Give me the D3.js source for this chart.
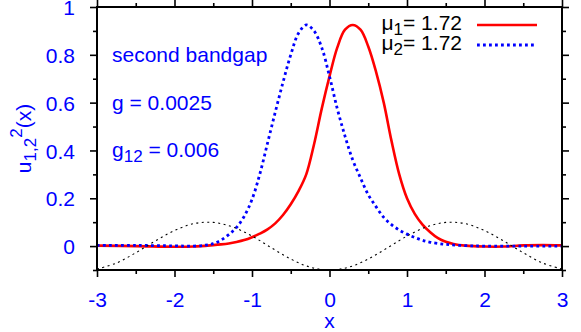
<!DOCTYPE html>
<html>
<head>
<meta charset="utf-8">
<script src="https://cdn.jsdelivr.net/npm/d3@7"></script>
<style>
    body { margin: 0; background: #fff; }
    svg { display: block; font-family: "Liberation Sans", Arial, Helvetica, sans-serif; }
</style>
</head>
<body>
<div id="chart"></div>
<script>
// values
const redX = [-3, -2.5, -2, -1.75, -1.5, -1.4, -1.3, -1.2, -1.1, -1, -0.9, -0.8, -0.7, -0.6, -0.5, -0.4, -0.3, -0.2, -0.1, 0,
    0.1, 0.2, 0.3, 0.4, 0.5, 0.6, 0.7, 0.8, 0.9, 1, 1.1, 1.2, 1.3, 1.4, 1.5, 1.6, 1.75, 2, 2.25, 2.5, 2.75, 3];
const redY = [0.002, 0, -0.003, -0.002, 0.004, 0.007, 0.011, 0.017, 0.025, 0.037, 0.052, 0.07, 0.095, 0.13, 0.175, 0.23, 0.3, 0.425, 0.575, 0.71,
    0.83, 0.905, 0.925, 0.905, 0.835, 0.73, 0.6, 0.44, 0.3, 0.2, 0.135, 0.09, 0.058, 0.033, 0.018, 0.009, 0.002, -0.002, -0.002, 0.003, 0.004, 0.003];

const blueX = [-3, -2.5, -2, -1.75, -1.6, -1.5, -1.4, -1.3, -1.2, -1.1, -1, -0.9, -0.8, -0.7, -0.6, -0.5, -0.4, -0.3, -0.2, -0.1, 0,
    0.1, 0.2, 0.3, 0.4, 0.5, 0.6, 0.7, 0.8, 0.9, 1, 1.1, 1.2, 1.3, 1.5, 1.75, 2, 2.5, 3];
const blueY = [0.003, 0.003, 0.001, 0, 0.004, 0.01, 0.025, 0.048, 0.078, 0.125, 0.195, 0.3, 0.43, 0.56, 0.685, 0.8, 0.89, 0.925, 0.9, 0.83, 0.71,
    0.575, 0.46, 0.36, 0.285, 0.215, 0.165, 0.12, 0.09, 0.067, 0.05, 0.036, 0.024, 0.016, 0.007, 0.002, 0, 0, 0];

const potX = [-3, -2.75, -2.5, -2.25, -2, -1.75, -1.5, -1.25, -1, -0.75, -0.5, -0.25, 0,
    0.25, 0.5, 0.75, 1, 1.25, 1.5, 1.75, 2, 2.25, 2.5, 2.75, 3];
const potY = [-0.096, -0.071, -0.028, 0.021, 0.065, 0.094, 0.099, 0.08, 0.042, -0.007, -0.054, -0.088, -0.1,
    -0.088, -0.054, -0.007, 0.042, 0.08, 0.099, 0.094, 0.065, 0.021, -0.028, -0.071, -0.096];

const xTicks = [-3, -2, -1, 0, 1, 2, 3];
const xMinor = [-2.5, -1.5, -0.5, 0.5, 1.5, 2.5];
const yTicks = [0, 0.2, 0.4, 0.6, 0.8, 1];
const yMinor = [-0.1, 0.1, 0.3, 0.5, 0.7, 0.9];
const legendLabels = ["1.72", "1.72"];

const width = 581, height = 332;
const mLeft = 97, mRight = 562, mTop = 7, mBottom = 270;
const fs = 21;

const x = d3.scaleLinear().domain([-3, 3]).range([mLeft, mRight]);
const y = d3.scaleLinear().domain([-0.1, 1]).range([mBottom, mTop]);

const svg = d3.select("#chart").append("svg")
    .attr("width", width).attr("height", height);

const line = (xs, ys) => d3.line()
    .x((d, i) => x(xs[i]))
    .y((d) => y(d))
    .curve(d3.curveCatmullRom)(ys);

// curves
svg.append("path").attr("d", line(redX, redY))
    .attr("fill", "none").attr("stroke", "#ff0000").attr("stroke-width", 2.6);
svg.append("path").attr("d", line(blueX, blueY))
    .attr("fill", "none").attr("stroke", "#0000ff").attr("stroke-width", 2.8)
    .attr("stroke-dasharray", "2.8,3.2");
svg.append("path").attr("d", line(potX, potY))
    .attr("fill", "none").attr("stroke", "#000").attr("stroke-width", 1.1)
    .attr("stroke-dasharray", "2,3.5");

// axes, ticks pointing outward on every side
const styleAxis = (g) => {
    g.select(".domain").remove();
    g.selectAll(".tick line").attr("stroke", "#000").attr("stroke-width", 1.6);
};
svg.append("g").attr("transform", `translate(0,${mBottom})`)
    .call(d3.axisBottom(x).tickValues(xTicks).tickSize(7).tickFormat((d) => String(d)))
    .call(styleAxis)
    .call((g) => g.selectAll("text").attr("y", 37).attr("dy", null)
        .attr("fill", "#0000ff").attr("font-size", fs));
svg.append("g").attr("transform", `translate(0,${mBottom})`)
    .call(d3.axisBottom(x).tickValues(xMinor).tickSize(4).tickFormat(""))
    .call(styleAxis);
svg.append("g").attr("transform", `translate(0,${mTop})`)
    .call(d3.axisTop(x).tickValues(xTicks).tickSize(7).tickFormat(""))
    .call(styleAxis);
svg.append("g").attr("transform", `translate(0,${mTop})`)
    .call(d3.axisTop(x).tickValues(xMinor).tickSize(4).tickFormat(""))
    .call(styleAxis);

svg.append("g").attr("transform", `translate(${mLeft},0)`)
    .call(d3.axisLeft(y).tickValues(yTicks).tickSize(7).tickFormat((d) => String(d)))
    .call(styleAxis)
    .call((g) => g.selectAll("text").attr("x", -22).attr("dy", "0.36em")
        .attr("fill", "#0000ff").attr("font-size", fs));
svg.append("g").attr("transform", `translate(${mLeft},0)`)
    .call(d3.axisLeft(y).tickValues(yMinor).tickSize(4).tickFormat(""))
    .call(styleAxis);
svg.append("g").attr("transform", `translate(${mRight},0)`)
    .call(d3.axisRight(y).tickValues(yTicks).tickSize(7).tickFormat(""))
    .call(styleAxis);
svg.append("g").attr("transform", `translate(${mRight},0)`)
    .call(d3.axisRight(y).tickValues(yMinor).tickSize(4).tickFormat(""))
    .call(styleAxis);

svg.selectAll("g").attr("font-family", null);

svg.append("rect")
    .attr("x", mLeft).attr("y", mTop)
    .attr("width", mRight - mLeft).attr("height", mBottom - mTop)
    .attr("fill", "none").attr("stroke", "#000").attr("stroke-width", 2);

// axis titles
svg.append("text").attr("x", (mLeft + mRight) / 2).attr("y", 328)
    .attr("text-anchor", "middle").attr("fill", "#0000ff").attr("font-size", fs)
    .text("x");

const yl = svg.append("text")
    .attr("transform", `translate(31,${(mTop + mBottom) / 2}) rotate(-90)`)
    .attr("text-anchor", "middle").attr("fill", "#0000ff").attr("font-size", fs);
yl.append("tspan").text("u");
yl.append("tspan").attr("dy", 5).attr("font-size", 17).text("1,2");
yl.append("tspan").attr("dy", -14).attr("font-size", 17).text("2");
yl.append("tspan").attr("dy", 9).text("(x)");

// annotations
const ann = svg.append("g").attr("fill", "#0000ff").attr("font-size", fs);
ann.append("text").attr("x", 112).attr("y", 62).text("second bandgap");
ann.append("text").attr("x", 112).attr("y", 110).text("g = 0.0025");
const g12 = ann.append("text").attr("x", 112).attr("y", 157);
g12.append("tspan").text("g");
g12.append("tspan").attr("dy", 5).attr("font-size", 17).text("12");
g12.append("tspan").attr("dy", -5).text(" = 0.006");

// legend
const legend = [
    { sub: "1", label: legendLabels[0], color: "#ff0000", dash: null, w: 2.6 },
    { sub: "2", label: legendLabels[1], color: "#0000ff", dash: "2.8,3.2", w: 2.8 },
];
legend.forEach((d, i) => {
    const by = 30 + i * 20;
    const t = svg.append("text").attr("x", 462).attr("y", by)
        .attr("text-anchor", "end").attr("fill", "#000").attr("font-size", fs);
    t.append("tspan").text("\u03bc");
    t.append("tspan").attr("dy", 5).attr("font-size", 17).text(d.sub);
    t.append("tspan").attr("dy", -5).text("= " + d.label);
    svg.append("line")
        .attr("x1", 477).attr("x2", 537).attr("y1", by - 5).attr("y2", by - 5)
        .attr("stroke", d.color).attr("stroke-width", d.w)
        .attr("stroke-dasharray", d.dash);
});
</script>
</body>
</html>
